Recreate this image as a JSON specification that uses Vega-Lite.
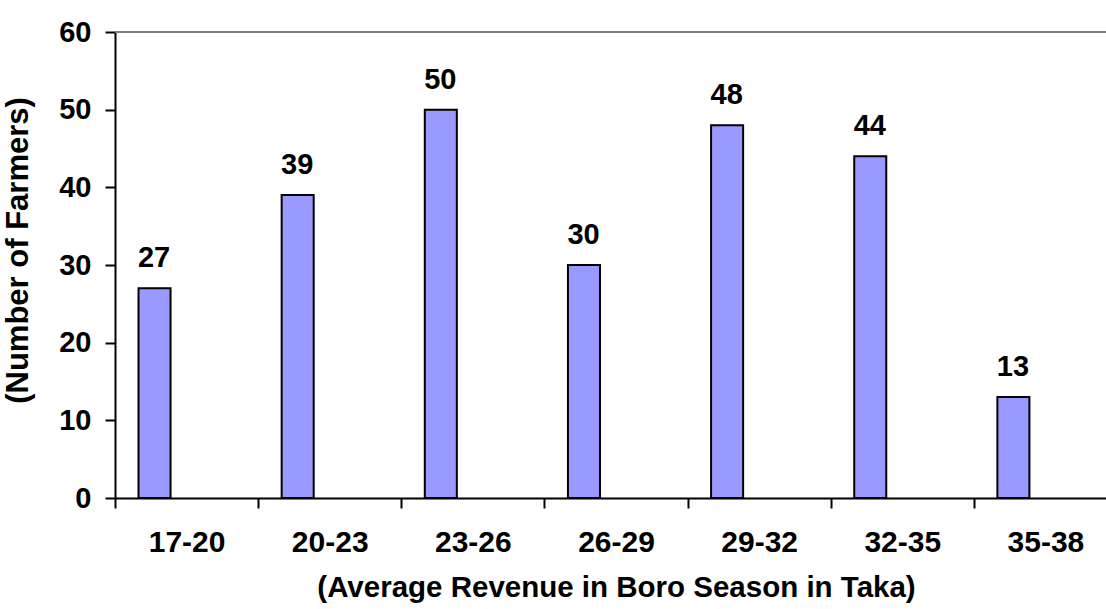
{
  "$schema": "https://vega.github.io/schema/vega-lite/v6.json",
  "width": 991,
  "height": 466,
  "autosize": {"type": "none"},
  "padding": {"left": 115, "top": 32, "right": 0, "bottom": 111},
  "background": "white",
  "config": {"view": {"stroke": null}, "font": "Liberation Sans"},
  "data": {
    "values": [
      {"range": "17-20", "farmers": 27, "series": "a"},
      {"range": "20-23", "farmers": 39, "series": "a"},
      {"range": "23-26", "farmers": 50, "series": "a"},
      {"range": "26-29", "farmers": 30, "series": "a"},
      {"range": "29-32", "farmers": 48, "series": "a"},
      {"range": "32-35", "farmers": 44, "series": "a"},
      {"range": "35-38", "farmers": 13, "series": "a"}
    ]
  },
  "layer": [
    {
      "mark": {"type": "rule", "color": "#808080", "strokeWidth": 2},
      "encoding": {"y": {"datum": 60, "type": "quantitative"}}
    },
    {
      "mark": {"type": "bar", "fill": "#9999FF", "stroke": "black", "strokeWidth": 2},
      "encoding": {
        "x": {
          "field": "range", "type": "nominal", "sort": null,
          "scale": {"range": [0, 1002], "paddingInner": 0, "paddingOuter": 0},
          "axis": {
            "title": "(Average Revenue in Boro Season in Taka)",
            "labelAngle": 0, "tickBand": "extent",
            "domainColor": "black", "domainWidth": 2,
            "tickColor": "black", "tickWidth": 2, "tickSize": 10,
            "labelFontSize": 30, "labelFontWeight": "bold", "labelColor": "black",
            "labelPadding": 19,
            "titleFontSize": 29.5, "titleFontWeight": "bold", "titleColor": "black",
            "titlePadding": 16, "titleX": 501
          }
        },
        "xOffset": {
          "field": "series", "type": "nominal",
          "scale": {"domain": ["a", "b", "c"], "paddingInner": 0, "paddingOuter": 0.734}
        },
        "y": {
          "field": "farmers", "type": "quantitative",
          "scale": {"domain": [0, 60], "nice": false},
          "axis": {
            "title": "(Number of Farmers)",
            "values": [0, 10, 20, 30, 40, 50, 60],
            "grid": false,
            "domainColor": "black", "domainWidth": 2,
            "tickColor": "black", "tickWidth": 2, "tickSize": 10,
            "labelFontSize": 29, "labelFontWeight": "bold", "labelColor": "black",
            "labelPadding": 14,
            "titleFontSize": 31, "titleFontWeight": "bold", "titleColor": "black",
            "titlePadding": 24, "titleY": 218
          }
        }
      }
    },
    {
      "mark": {"type": "text", "baseline": "alphabetic", "dy": -21, "fontSize": 29, "fontWeight": "bold", "color": "black"},
      "encoding": {
        "x": {"field": "range", "type": "nominal", "sort": null, "bandPosition": 0.273},
        "y": {"field": "farmers", "type": "quantitative"},
        "text": {"field": "farmers", "type": "quantitative"}
      }
    }
  ]
}
